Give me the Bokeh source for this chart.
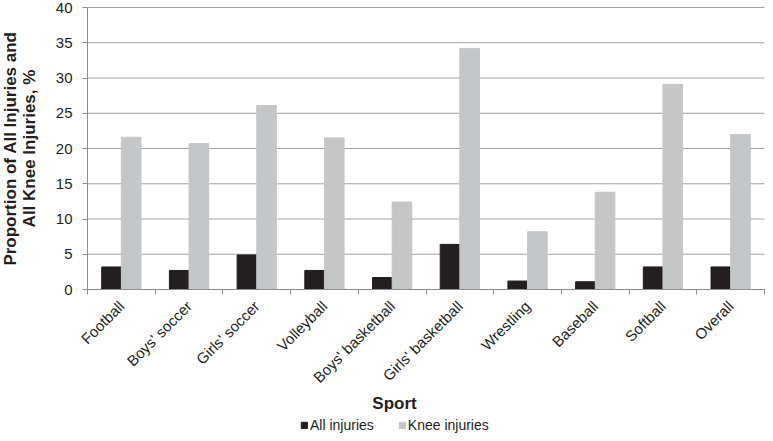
from math import pi
from bokeh.plotting import figure
from bokeh.models import FixedTicker, Legend, LegendItem, Label, ColumnDataSource
from bokeh.embed import file_html
from bokeh.resources import INLINE

sports = ["Football", "Boys' soccer", "Girls' soccer", "Volleyball", "Boys' basketball",
          "Girls' basketball", "Wrestling", "Baseball", "Softball", "Overall"]
all_injuries = [3.2, 2.7, 4.9, 2.7, 1.7, 6.4, 1.2, 1.1, 3.2, 3.2]
knee_injuries = [21.6, 20.7, 26.1, 21.5, 12.4, 34.2, 8.2, 13.8, 29.1, 22.0]
y_ticks = [0, 5, 10, 15, 20, 25, 30, 35, 40]

FONT = "Liberation Sans"
TXT = "#231f20"
GRID = "#a3a3a3"
AXIS = "#8c8c8c"
BAR_W = 0.29

# page layout (figure pixels)
W, H = 765, 433
X0_PX, X1_PX = 87, 764      # plot area left/right
Y40_PX, Y0_PX = 7, 289      # pixel rows of 40 and 0 (from top)
n = len(sports)
y_max = y_ticks[-1]
ppx = (X1_PX - X0_PX) / n
ppy = (Y0_PX - Y40_PX) / y_max
x_range = (-X0_PX / ppx, n + (W - X1_PX) / ppx)
y_range = (-(H - Y0_PX) / ppy, y_max + Y40_PX / ppy)

centers = [i + 0.5 for i in range(n)]
src = ColumnDataSource(dict(
    x_all=[c - BAR_W / 2 for c in centers],
    x_knee=[c + BAR_W / 2 for c in centers],
    all_inj=all_injuries,
    knee=knee_injuries,
))

p = figure(width=W, height=H, output_backend="svg", toolbar_location=None,
           x_range=x_range, y_range=y_range,
           min_border_left=0, min_border_right=0, min_border_top=0, min_border_bottom=0)
p.outline_line_color = None
p.background_fill_color = "white"
p.xgrid.visible = False
p.ygrid.visible = False

# horizontal gridlines at the y ticks, across the plot area
p.segment(x0=[0] * len(y_ticks), x1=[n] * len(y_ticks), y0=y_ticks, y1=y_ticks,
          line_color=GRID, line_width=1)

r1 = p.vbar(x="x_all", top="all_inj", width=BAR_W, source=src, color="#231f20")
r2 = p.vbar(x="x_knee", top="knee", width=BAR_W, source=src, color="#c5c6c8")

# x axis (fixed at y=0)
xa = p.xaxis[0]
xa.fixed_location = 0
xa.bounds = (0, n)
xa.ticker = FixedTicker(ticks=centers, minor_ticks=list(range(n + 1)))
xa.major_label_overrides = {c: s for c, s in zip(centers, sports)}
xa.major_label_orientation = pi / 4
xa.major_tick_in = 0
xa.major_tick_out = 0
xa.minor_tick_in = 0
xa.minor_tick_out = 5
xa.minor_tick_line_color = AXIS
xa.axis_line_color = AXIS
xa.major_label_text_font = FONT
xa.major_label_text_font_size = "15px"
xa.major_label_text_color = TXT
xa.major_label_standoff = 9

# y axis (fixed at x=0)
ya = p.yaxis[0]
ya.fixed_location = 0
ya.bounds = (0, y_max)
ya.ticker = FixedTicker(ticks=y_ticks)
ya.minor_tick_line_color = None
ya.major_tick_in = 0
ya.major_tick_out = 5
ya.major_tick_line_color = AXIS
ya.axis_line_color = AXIS
ya.major_label_text_font = FONT
ya.major_label_text_font_size = "15px"
ya.major_label_text_color = TXT
ya.major_label_standoff = 10

p.add_layout(Label(x=19, y=y_max / 2, x_units="screen", y_units="data",
                   text="Proportion of All Injuries and\nAll Knee Injuries, %",
                   angle=pi / 2, text_font=FONT, text_font_size="17px",
                   text_font_style="bold", text_color=TXT, text_line_height=1.0,
                   text_align="center", text_baseline="middle"))

p.add_layout(Label(x=394, y=30, x_units="screen", y_units="screen", text="Sport",
                   text_font=FONT, text_font_size="17px", text_font_style="bold",
                   text_color=TXT, text_align="center", text_baseline="middle"))

legend = Legend(items=[LegendItem(label="All injuries", renderers=[r1]),
                       LegendItem(label="Knee injuries", renderers=[r2])],
                orientation="horizontal", location=(300, 0),
                glyph_width=8, glyph_height=8, label_text_font=FONT,
                label_text_font_size="14px", label_text_color=TXT,
                label_standoff=2, spacing=24, padding=0, margin=0,
                border_line_color=None, background_fill_alpha=0)
p.add_layout(legend, "center")

open("out.html", "w").write(file_html(p, INLINE))
